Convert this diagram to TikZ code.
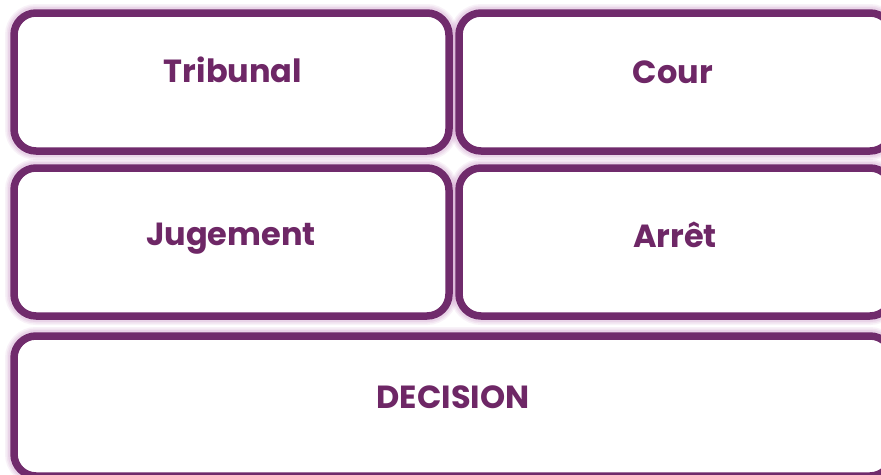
\documentclass[tikz,border=0pt]{standalone}
\usepackage{fontspec}
\setmainfont{Poppins}
\begin{document}
\begin{tikzpicture}[x=1pt,y=-1pt,
  every node/.style={inner sep=0pt, outer sep=0pt},
  box/.style={draw=boxc, fill=white, line width=7.5pt, rounded corners=22pt, rectangle},
  glow/.style={draw=glowc, rounded corners=22pt},
  lbl/.style={text=txtc, font=\fontsize{32}{37}\selectfont\bfseries, anchor=base}]
\definecolor{boxc}{RGB}{112,43,108}
\definecolor{txtc}{RGB}{110,39,102}
\definecolor{glowc}{RGB}{205,150,200}
\useasboundingbox (0,0) rectangle (881,474);
\fill[white] (0,0) rectangle (881,474);
% glow
\foreach \w/\o in {18/0.12,15/0.15,12/0.2}{
  \draw[glow, line width=\w pt, opacity=\o] (14,13) rectangle (449,151);
  \draw[glow, line width=\w pt, opacity=\o] (459,13) rectangle (892,151);
  \draw[glow, line width=\w pt, opacity=\o] (14,168) rectangle (449,316);
  \draw[glow, line width=\w pt, opacity=\o] (459,168) rectangle (892,316);
  \draw[glow, line width=\w pt, opacity=\o] (14,336) rectangle (892,476);
}
\node[box, minimum width=435pt, minimum height=138pt] (trib) at (231.5,82) {};
\node[box, minimum width=433pt, minimum height=138pt] (cour) at (675.5,82) {};
\node[box, minimum width=435pt, minimum height=148pt] (jug) at (231.5,242) {};
\node[box, minimum width=433pt, minimum height=148pt] (arr) at (675.5,242) {};
\node[box, minimum width=878pt, minimum height=140pt] (dec) at (453,406) {};
\node[lbl] (tribT) at (233,82) {Tribunal};
\node[lbl] (courT) at (673,83) {Cour};
\node[lbl] (jugT) at (231,245) {Jugement};
\node[lbl] (arrT) at (675,247) {Arrêt};
\node[lbl] (decT) at (453,408) {DECISION};
\end{tikzpicture}
\end{document}
